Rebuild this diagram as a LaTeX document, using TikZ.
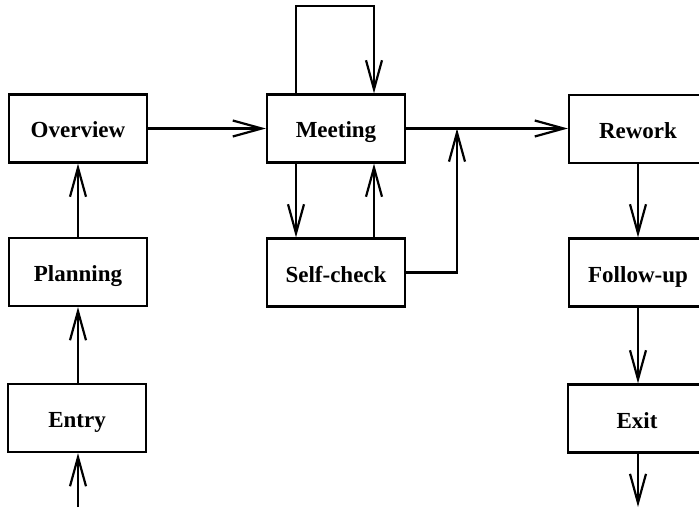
\documentclass[tikz,border=0pt]{standalone}
\usepackage{fontspec}
\setmainfont{Liberation Serif}
\usetikzlibrary{arrows.meta}
\begin{document}
\begin{tikzpicture}[x=1pt,y=-1pt,
  every path/.style={line width=2.2pt},
  phase/.style={draw, line width=2.2pt, minimum width=138pt, minimum height=68pt,
    inner sep=0pt, text height=19pt, text depth=0pt,
    font=\fontsize{23}{27}\selectfont\bfseries},
  flow/.style={-{Straight Barb[length=29pt,width=16pt,line width=2.2pt]}}]
\useasboundingbox (0,0) rectangle (699,508);

% left column
\node[phase] (overview) at (78,128.5) {Overview};
\node[phase] (planning) at (78,272) {Planning};
\node[phase] (entry)    at (77,418) {Entry};

% middle column
\node[phase] (meeting)   at (336,128.5) {Meeting};
\node[phase] (selfcheck) at (336,272.5) {Self-check};

% right column
\node[phase] (rework)   at (638,129) {Rework};
\node[phase] (followup) at (638,272.5) {Follow-up};
\node[phase] (exit)     at (637,418.5) {Exit};

% free ends and bends
\coordinate (in)    at (78,507);
\coordinate (out)   at (638,507);
\coordinate (loopL) at (296,6);
\coordinate (loopR) at (374,6);
\coordinate (join)  at (457,128.5);

% left column flow
\draw[flow] (in) -- (entry.south -| in);
\draw[flow] (entry.north -| in) -- (planning.south -| in);
\draw[flow] (planning.north -| in) -- (overview.south -| in);
\draw[flow] (overview.east) -- (meeting.west);

% meeting and self-check
\draw[flow] (meeting.north -| loopL) -- (loopL) -- (loopR) -- (meeting.north -| loopR);
\draw[flow] (meeting.south -| loopL) -- (selfcheck.north -| loopL);
\draw[flow] (selfcheck.north -| loopR) -- (meeting.south -| loopR);
\draw (meeting.east) -- (join);
\draw[flow] (selfcheck.east) -| (join);
\draw[flow] (join) -- (rework.west |- join);

% right column flow
\draw[flow] (rework.south -| out) -- (followup.north -| out);
\draw[flow] (followup.south -| out) -- (exit.north -| out);
\draw[flow] (exit.south -| out) -- (out);
\end{tikzpicture}
\end{document}
